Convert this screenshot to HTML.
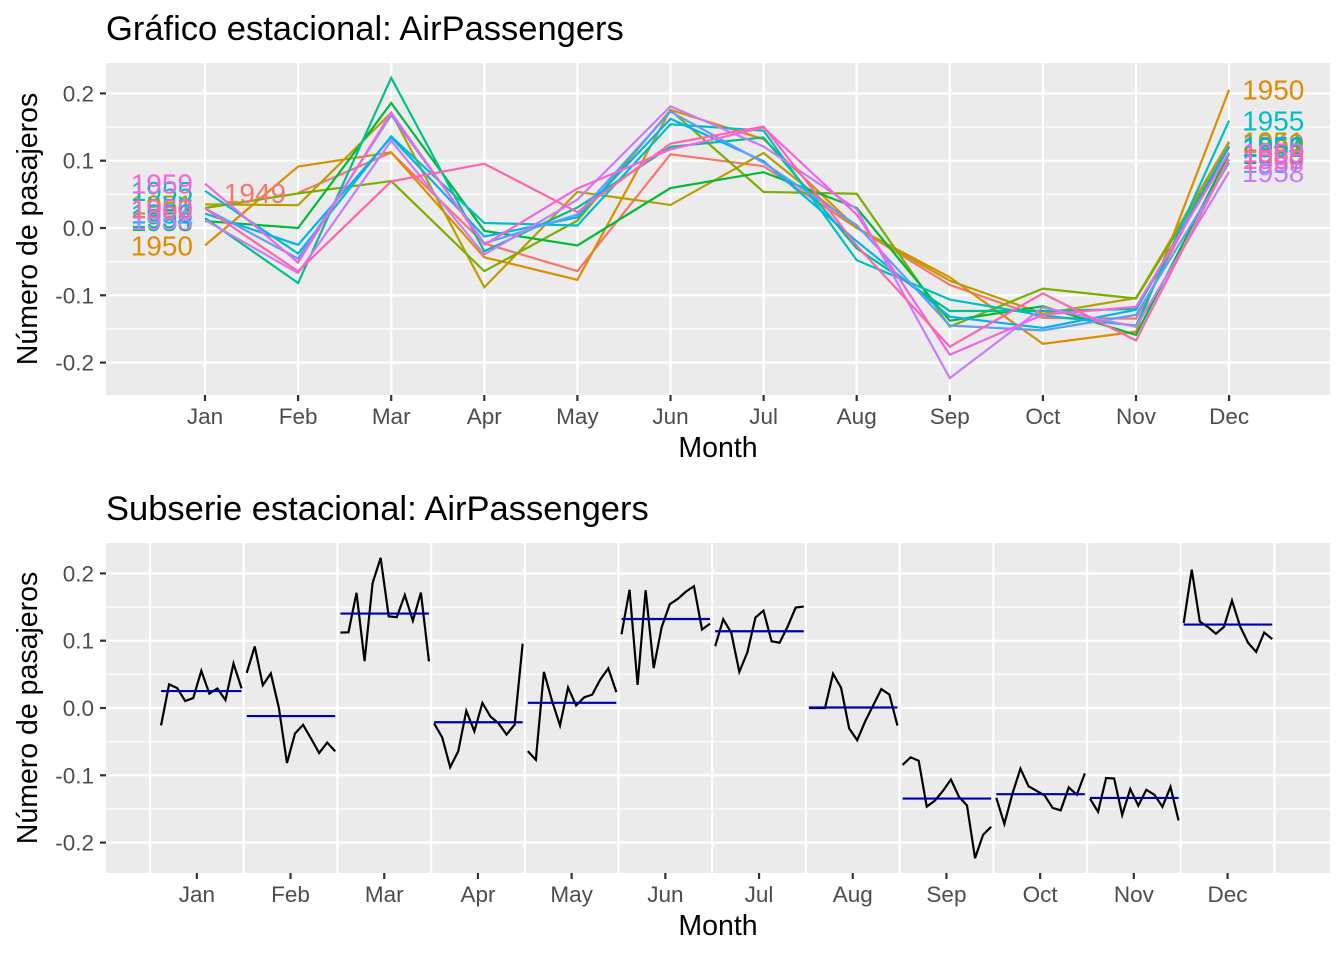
<!DOCTYPE html>
<html><head><meta charset="utf-8">
<style>
body{margin:0;background:#fff;width:1344px;height:960px;overflow:hidden;font-family:"Liberation Sans",sans-serif;}
svg{display:block}
</style></head><body>
<svg id="chart" width="1344" height="960" xmlns="http://www.w3.org/2000/svg" font-family="Liberation Sans, sans-serif"></svg>
<script>
const months = ["Jan","Feb","Mar","Apr","May","Jun","Jul","Aug","Sep","Oct","Nov","Dec"];
const years = [1949,1950,1951,1952,1953,1954,1955,1956,1957,1958,1959,1960];
const yTicks = [0.2,0.1,0.0,-0.1,-0.2];
const yTickLabels = ["0.2","0.1","0.0","-0.1","-0.2"];
const v1949 = [null,0.0522,0.1121,-0.0230,-0.0640,0.1095,0.0919,0.0000,-0.0846,-0.1335,-0.1347,0.1263];
const v1950 = [-0.0258,0.0914,0.1125,-0.0435,-0.0770,0.1756,0.1319,0.0000,-0.0732,-0.1722,-0.1542,0.2055];
const v1951 = [0.0351,0.0339,0.1712,-0.0880,0.0537,0.0343,0.1115,0.0000,-0.0784,-0.1273,-0.1040,0.1284];
const v1952 = [0.0297,0.0513,0.0697,-0.0642,0.0110,0.1750,0.0536,0.0509,-0.1466,-0.0901,-0.1048,0.1204];
const v1953 = [0.0103,0.0000,0.1857,-0.0042,-0.0259,0.0593,0.0829,0.0299,-0.1377,-0.1162,-0.1589,0.1103];
const v1954 = [0.0148,-0.0817,0.2231,-0.0346,0.0304,0.1206,0.1345,-0.0303,-0.1233,-0.1231,-0.1205,0.1205];
const v1955 = [0.0552,-0.0379,0.1362,0.0075,0.0037,0.1542,0.1446,-0.0478,-0.1063,-0.1299,-0.1451,0.1596];
const v1956 = [0.0214,-0.0250,0.1349,-0.0127,0.0158,0.1622,0.0992,-0.0196,-0.1318,-0.1485,-0.1215,0.1215];
const v1957 = [0.0290,-0.0455,0.1678,-0.0227,0.0199,0.1729,0.0970,0.0043,-0.1449,-0.1521,-0.1290,0.0968];
const v1958 = [0.0118,-0.0669,0.1296,-0.0394,0.0422,0.1809,0.1211,0.0281,-0.2231,-0.1181,-0.1468,0.0835];
const v1959 = [0.0660,-0.0513,0.1715,-0.0249,0.0588,0.1167,0.1493,0.0199,-0.1884,-0.1289,-0.1172,0.1122];
const v1960 = [0.0292,-0.0644,0.0692,0.0955,0.0236,0.1253,0.1507,-0.0261,-0.1764,-0.0971,-0.1672,0.1023];
const series = [v1949,v1950,v1951,v1952,v1953,v1954,v1955,v1956,v1957,v1958,v1959,v1960];
const colors = ["#F8766D","#DE8C00","#B79F00","#7CAE00","#00BA38","#00C08B","#00BFC4","#00B4F0","#619CFF","#C77CFF","#F564E3","#FF64B0"];

const svg = document.getElementById('chart');
const NS = "http://www.w3.org/2000/svg";
function mk(tag, attrs, parent){const e=document.createElementNS(NS,tag);for(const k in attrs)e.setAttribute(k,attrs[k]);(parent||svg).appendChild(e);return e;}

function panel(top, bottom, title, xFn, vGrid, name){
  const L=106,R=1330;
  const g=mk('g',{});
  
  
  const y0=(top===63)?228:708;
  const yS=v=>y0 - v*673;
  const bg=mk('rect',{x:L,y:top,width:R-L,height:bottom-top,fill:'#EBEBEB'},g);
  
  
  for(let i=0;i<yTicks.length-1;i++){const m=(yTicks[i]+yTicks[i+1])/2;mk('line',{x1:L,x2:R,y1:yS(m),y2:yS(m),stroke:'#fff','stroke-width':1.1},g);}
  mk('line',{x1:L,x2:R,y1:yS(0.25),y2:yS(0.25),stroke:'#fff','stroke-width':1.1},g);
  mk('line',{x1:L,x2:R,y1:yS(-0.25),y2:yS(-0.25),stroke:'#fff','stroke-width':1.1},g);
  yTicks.forEach((t,i)=>{
    mk('line',{x1:L,x2:R,y1:yS(t),y2:yS(t),stroke:'#fff','stroke-width':2.2},g);
    mk('line',{x1:100,x2:106,y1:yS(t),y2:yS(t),stroke:'#333','stroke-width':2.2},g);
    const tx=mk('text',{x:94,y:yS(t)+8,'text-anchor':'end','font-size':22.5,fill:'#4D4D4D'},g);
    tx.textContent=yTickLabels[i];
    
    
  });
  vGrid.forEach(x=>mk('line',{x1:x,x2:x,y1:top,y2:bottom,stroke:'#fff','stroke-width':2.2},g));
  months.forEach((m,i)=>{
    const x=xFn(i);
    mk('line',{x1:x,x2:x,y1:bottom,y2:bottom+6,stroke:'#333','stroke-width':2.2},g);
    const tx=mk('text',{x:x,y:bottom+29,'text-anchor':'middle','font-size':22.5,fill:'#4D4D4D'},g);
    tx.textContent=m;
    
    
  });
  const xt=mk('text',{x:718,y:bottom+62,'text-anchor':'middle','font-size':28.5,fill:'#000'},g);
  xt.textContent='Month';
  
  
  const cy=(top+bottom)/2;
  const yt=mk('text',{x:37,y:cy,'text-anchor':'middle','font-size':28.5,fill:'#000',transform:`rotate(-90 37 ${cy})`},g);
  yt.textContent='Número de pasajeros';
  
  
  const tt=mk('text',{x:106,y:top-23,'font-size':34.5,fill:'#000'},g);
  tt.textContent=title;
  
  
  return {g,yS};
}

// Top: seasonal plot
const xTop = i => 205 + i*93.1;
const p1 = panel(63,395,'Gráfico estacional: AirPassengers', xTop, months.map((m,i)=>xTop(i)), 'seasonal-plot-panel');
series.forEach((vals,k)=>{
  const pts=[];vals.forEach((v,i)=>{if(v!==null)pts.push(xTop(i)+','+p1.yS(v));});
  const pl=mk('polyline',{points:pts.join(' '),fill:'none',stroke:colors[k],'stroke-width':2.2},p1.g);
  
  
});
series.forEach((vals,k)=>{
  const first=vals.findIndex(v=>v!==null);
  const lt=mk('text',{x:xTop(first)-12,y:p1.yS(vals[first])+10,'text-anchor':'end','font-size':28,fill:colors[k]},p1.g);
  lt.textContent=years[k];
  
  
  const rt=mk('text',{x:xTop(11)+13,y:p1.yS(vals[11])+10,'text-anchor':'start','font-size':28,fill:colors[k]},p1.g);
  rt.textContent=years[k];
  
  
});

// Bottom: subseries plot
const bound = i => 150 + i*93.7;
const xBot = i => bound(i) + 46.85;
const p2 = panel(543,873,'Subserie estacional: AirPassengers', xBot, months.map((m,i)=>bound(i)).concat([bound(12)]), 'subseries-plot-panel');
const xYear = (i,k) => bound(i) + 3 + k*8.05;
months.forEach((m,i)=>{
  const pts=[];let sum=0,n=0,kmin=99,kmax=-1;
  series.forEach((vals,k)=>{const v=vals[i];if(v!==null){pts.push(xYear(i,k)+','+p2.yS(v));sum+=v;n++;kmin=Math.min(kmin,k);kmax=Math.max(kmax,k);}});
  const pl=mk('polyline',{points:pts.join(' '),fill:'none',stroke:'#000','stroke-width':2.2},p2.g);
  
  
  const mean=sum/n;
  const ml=mk('line',{x1:xYear(i,kmin),x2:xYear(i,kmax),y1:p2.yS(mean),y2:p2.yS(mean),stroke:'#0000AA','stroke-width':2.2},p2.g);
  
  
});
</script>
</body></html>
